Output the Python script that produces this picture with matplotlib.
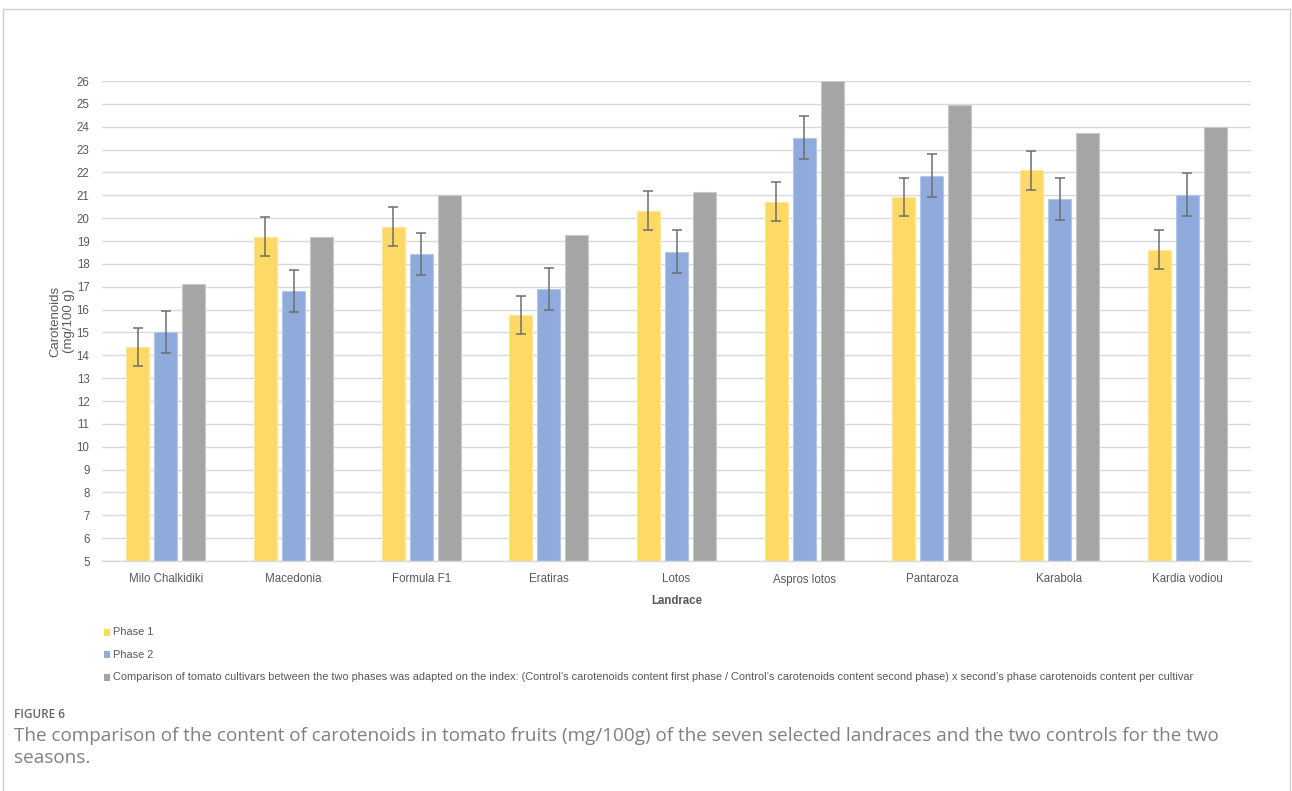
import matplotlib
matplotlib.use("Agg")
import matplotlib.pyplot as plt
from matplotlib.patches import Rectangle
from matplotlib.lines import Line2D
import numpy as np

# Landraces and controls on the x axis
categories = ["Milo Chalkidiki", "Macedonia", "Formula F1", "Eratiras", "Lotos",
              "Aspros lotos", "Pantaroza", "Karabola", "Kardia vodiou"]

# Carotenoids content (mg/100 g)
phase1 = [14.35, 19.18, 19.63, 15.77, 20.32, 20.71, 20.93, 22.09, 18.62]
phase1_err = [0.84, 0.85, 0.84, 0.84, 0.85, 0.85, 0.84, 0.84, 0.84]
phase2 = [15.03, 16.82, 18.42, 16.90, 18.54, 23.52, 21.86, 20.83, 21.03]
phase2_err = [0.92, 0.93, 0.92, 0.92, 0.93, 0.93, 0.93, 0.93, 0.93]
adjusted = [17.12, 19.18, 21.03, 19.25, 21.14, 26.00, 24.96, 23.74, 23.98]

yticks = list(range(5, 27))

legend_labels = [
    "Phase 1",
    "Phase 2",
    "Comparison of tomato cultivars between the two phases was adapted on the index: "
    "(Control\u2019s carotenoids content first phase / Control\u2019s carotenoids content "
    "second phase) x second\u2019s phase carotenoids content per cultivar",
]

caption_head = "FIGURE 6"
caption_lines = [
    "The comparison of the content of carotenoids in tomato fruits (mg/100g) of the seven "
    "selected landraces and the two controls for the two",
    "seasons.",
]

colors = ["#FFD966", "#8FAADC", "#A5A5A5"]
edges = ["#FFE699", "#B4C7E7", "#C9C9C9"]
text_col = "#595959"
chart_font = ["Liberation Sans Narrow", "Liberation Sans", "DejaVu Sans"]

W, H = 1292, 791
fig = plt.figure(figsize=(W / 100, H / 100), dpi=100)


def fx(px):
    return px / W


def fy(py):
    return 1 - py / H


ax = fig.add_axes([fx(102), fy(561), fx(1251) - fx(102), fy(81) - fy(561)])

x = np.arange(len(categories))
bw = 0.18
step = 0.22
series = [(phase1, phase1_err), (phase2, phase2_err), (adjusted, None)]
for i, (vals, errs) in enumerate(series):
    pos = x + (i - 1) * step
    heights = np.array(vals) - 5
    ax.bar(pos, heights, width=bw, bottom=5, color=colors[i], edgecolor=edges[i],
           linewidth=0.8, zorder=2)
    if errs is not None:
        ax.errorbar(pos, vals, yerr=errs, fmt="none", ecolor="#6E6E6E",
                    elinewidth=1.1, capsize=3.5, capthick=1.1, zorder=3)

ax.set_xlim(-0.5, len(categories) - 0.5)
ax.set_ylim(5, 26)
ax.set_yticks(yticks)
ax.set_xticks(x)
ax.set_xticklabels(categories, fontsize=8.3, color=text_col, family=chart_font)
ax.set_yticklabels([str(t) for t in yticks], fontsize=8.3, color=text_col, family=chart_font)
ax.tick_params(axis="both", length=0)
ax.tick_params(axis="y", pad=9)
ax.tick_params(axis="x", pad=9)
ax.grid(axis="y", color="#D9D9D9", linewidth=1.0, zorder=0)
ax.set_axisbelow(True)
for s in ["top", "right", "left"]:
    ax.spines[s].set_visible(False)
ax.spines["bottom"].set_color("#D9D9D9")
ax.spines["bottom"].set_linewidth(1.0)

ax.set_xlabel("Landrace", fontsize=8.3, fontweight="bold", color=text_col,
              family=chart_font, labelpad=7)
ax.set_ylabel("Carotenoids\n(mg/100 g)", fontsize=9.5, color=text_col,
              family=chart_font, labelpad=1, linespacing=1.2)

# Legend entries stacked below the chart
for i, (lab, c) in enumerate(zip(legend_labels, colors)):
    yc = 632 + i * 22.5
    fig.patches.append(Rectangle((fx(103.5), fy(yc + 3.5)), fx(7) - fx(0),
                                 fy(0) - fy(7), transform=fig.transFigure,
                                 facecolor=c, edgecolor="none"))
    fig.text(fx(113), fy(yc), lab, fontsize=7.9, color=text_col, family=chart_font,
             va="center", ha="left")

# Frame around the figure panel
frame_col = "#D0D0D0"
fig.add_artist(Line2D([fx(2.5), fx(2.5)], [fy(9), 0], color=frame_col, lw=1.0,
                      transform=fig.transFigure))
fig.add_artist(Line2D([fx(1289.5), fx(1289.5)], [fy(9), 0], color=frame_col, lw=1.0,
                      transform=fig.transFigure))
fig.add_artist(Line2D([fx(2.5), fx(1289.5)], [fy(9), fy(9)], color=frame_col, lw=1.0,
                      transform=fig.transFigure))

# Caption
fig.text(fx(14), fy(714), caption_head, fontsize=8.5, color="#666666", fontweight="semibold",
         family=["Open Sans", "DejaVu Sans"], va="center", ha="left")
for i, line in enumerate(caption_lines):
    fig.text(fx(14), fy(736 + i * 22), line, fontsize=13.55, color="#808080",
             family=["Open Sans", "DejaVu Sans"], va="center", ha="left")

fig.savefig("out.png", dpi=100, facecolor="white")
